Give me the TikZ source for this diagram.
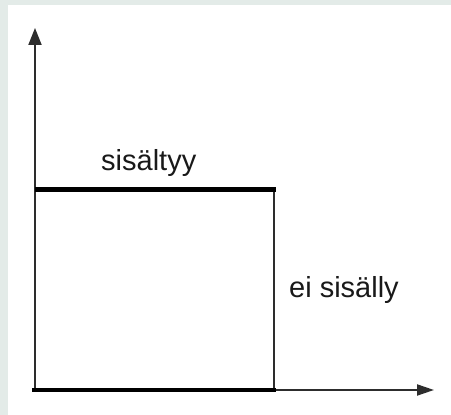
\documentclass[tikz,border=0pt]{standalone}
\usepackage{fontspec}
\setmainfont{Liberation Sans}
\usetikzlibrary{arrows.meta}
\definecolor{framegray}{RGB}{227,235,232}
\definecolor{axisgray}{RGB}{45,45,45}
\tikzset{
  axisline/.style={draw=axisgray, line width=2pt},
  boldline/.style={draw=black, line width=4.5pt},
  thinline/.style={draw=axisgray, line width=2pt},
  lbl/.style={inner sep=0pt, anchor=base west, text=black!90, font=\fontsize{29}{34}\selectfont}
}
\begin{document}
\begin{tikzpicture}[x=1pt,y=1pt]
  \fill[framegray] (0,0) rectangle (451,415);
  \fill[white] (8,0) rectangle (451,410);
  \useasboundingbox (0,0) rectangle (451,415);
  % key points
  \coordinate (O) at (35,25);
  \coordinate (Ytip) at (35,387);
  \coordinate (Xtip) at (434,25);
  \coordinate (TL) at (35,225.5);
  \coordinate (TR) at (274,225.5);
  \coordinate (BR) at (274,25);
  \coordinate (BL) at (32,25);
  \coordinate (BRe) at (276,25);
  % axes
  \draw[axisline, -{Triangle[length=17pt,width=13pt]}] (O) -- (Ytip);
  \draw[axisline, -{Triangle[length=17pt,width=11pt]}] (O) -- (Xtip);
  % box
  \draw[thinline] (TR) -- (BR);
  \draw[boldline] (TL) -- ([xshift=2pt]TR);
  \draw[boldline] (BL) -- (BRe);
  % labels
  \node[lbl] (top) at (101,244) {sisältyy};
  \node[lbl] (right) at (289,117) {ei sisälly};
\end{tikzpicture}
\end{document}
